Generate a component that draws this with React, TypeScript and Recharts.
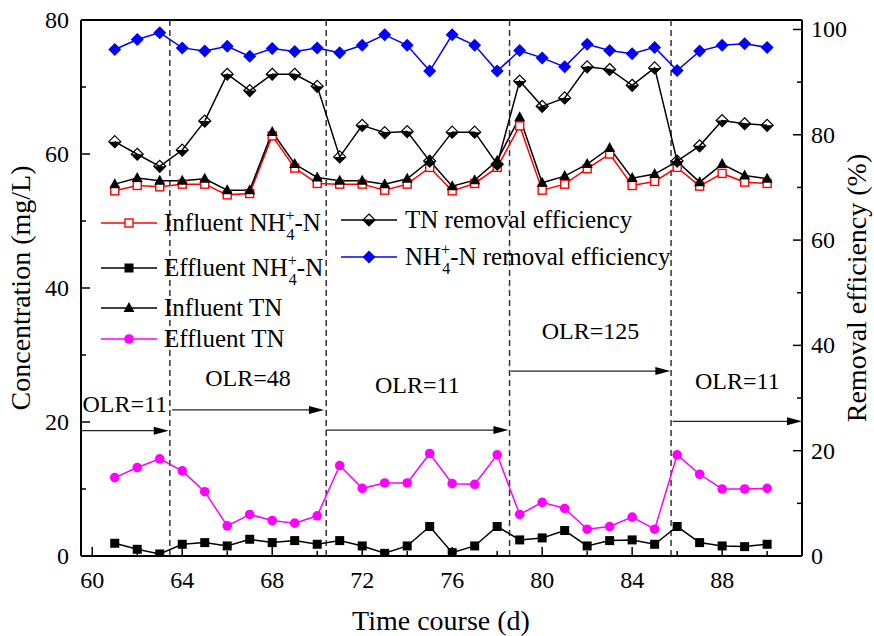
import React from 'react';
import { LineChart, Line, XAxis, YAxis, ReferenceLine, ReferenceDot } from 'recharts';

// days of operation
const days = [61, 62, 63, 64, 65, 66, 67, 68, 69, 70, 71, 72, 73, 74, 75, 76, 77, 78, 79, 80, 81, 82, 83, 84, 85, 86, 87, 88, 89, 90];

// concentrations (mg/L), left axis
const influentNH4 = [54.5, 55.3, 55.1, 55.5, 55.5, 53.9, 54.1, 62.7, 57.9, 55.6, 55.5, 55.5, 54.6, 55.5, 58.0, 54.5, 55.6, 58.0, 64.2, 54.6, 55.5, 57.8, 60.0, 55.3, 55.9, 58.0, 55.2, 57.1, 55.8, 55.6];
const effluentNH4 = [1.9, 1.0, 0.3, 1.75, 2.0, 1.5, 2.5, 2.0, 2.3, 1.75, 2.3, 1.5, 0.4, 1.5, 4.4, 0.5, 1.5, 4.4, 2.4, 2.7, 3.8, 1.5, 2.3, 2.4, 1.75, 4.4, 2.0, 1.5, 1.4, 1.75];
const influentTN = [55.5, 56.4, 56.0, 56.0, 56.3, 54.6, 54.6, 63.3, 58.5, 56.5, 56.0, 56.0, 55.5, 56.3, 59.0, 55.2, 56.1, 59.0, 65.5, 55.7, 56.7, 58.5, 60.9, 56.4, 57.0, 58.9, 55.8, 58.5, 56.8, 56.3];
const effluentTN = [11.7, 13.2, 14.5, 12.7, 9.6, 4.5, 6.2, 5.3, 4.9, 6.0, 13.5, 10.1, 10.9, 10.9, 15.3, 10.8, 10.7, 15.1, 6.2, 8.0, 7.1, 4.0, 4.4, 5.8, 4.0, 15.1, 12.2, 10.0, 10.0, 10.1];

// removal efficiencies (%), right axis
const tnRemoval = [78.7, 76.3, 74.0, 77.1, 82.6, 91.5, 88.4, 91.5, 91.5, 89.2, 75.8, 81.8, 80.4, 80.6, 75.0, 80.5, 80.5, 74.4, 90.2, 85.4, 87.0, 92.9, 92.4, 89.4, 92.7, 75.0, 77.9, 82.7, 82.1, 81.8];
const nh4Removal = [96.2, 98.1, 99.4, 96.5, 95.9, 96.8, 94.9, 96.4, 95.8, 96.5, 95.6, 97.0, 99.0, 97.0, 92.1, 99.0, 97.0, 92.1, 96.0, 94.6, 92.9, 97.2, 96.0, 95.4, 96.6, 92.2, 95.9, 97.0, 97.3, 96.6];

// phase boundaries and OLR annotations
const phaseBounds = [63.45, 70.4, 78.55, 85.73];
const olrText = ['OLR=11', 'OLR=48', 'OLR=11', 'OLR=125', 'OLR=11'];
const olrFrom = [59.5, 63.55, 70.4, 78.6, 85.8];
const olrTo = [63.4, 70.3, 78.5, 85.7, 91.55];
const olrArrowLevel = [18.7, 21.8, 18.8, 27.6, 20.1];
const olrTextLevel = [22.7, 26.6, 25.5, 33.6, 26.1];

const xTicks = [60, 62, 64, 66, 68, 70, 72, 74, 76, 78, 80, 82, 84, 86, 88, 90];
const leftTicks = [0, 10, 20, 30, 40, 50, 60, 70, 80];
const rightTicks = [0, 10, 20, 30, 40, 50, 60, 70, 80, 90, 100];

const W = 874;
const H = 636;
const PLOT_L = 81;
const PLOT_R = 802;
const PLOT_B = 556;
const FONT = "'Times New Roman', 'Liberation Serif', 'DejaVu Serif', serif";
const txt = { fontFamily: FONT };
const LEG = 25;

const data = days.map((d, i) => ({
  day: d,
  inNH4: influentNH4[i],
  effNH4: effluentNH4[i],
  inTN: influentTN[i],
  effTN: effluentTN[i],
  tnEff: tnRemoval[i],
  nh4Eff: nh4Removal[i],
}));

// markers
const OpenSquare = ({ cx, cy }: any) => (
  <rect x={cx - 4} y={cy - 4} width={8} height={8} fill="#fff" stroke="#ff0000" strokeWidth={1.4} />
);
const FilledSquare = ({ cx, cy }: any) => (
  <rect x={cx - 4.5} y={cy - 4.5} width={9} height={9} fill="#000" />
);
const Triangle = ({ cx, cy }: any) => (
  <polygon points={`${cx},${cy - 6} ${cx + 5.5},${cy + 4} ${cx - 5.5},${cy + 4}`} fill="#000" />
);
const Circle = ({ cx, cy }: any) => <circle cx={cx} cy={cy} r={4.8} fill="#ff00ff" />;
const HalfDiamond = ({ cx, cy }: any) => (
  <g>
    <polygon points={`${cx - 6},${cy} ${cx + 6},${cy} ${cx},${cy + 6}`} fill="#000" />
    <polygon points={`${cx},${cy - 6} ${cx + 6},${cy} ${cx},${cy + 6} ${cx - 6},${cy}`} fill="none" stroke="#000" strokeWidth={1.2} />
  </g>
);
const BlueDiamond = ({ cx, cy }: any) => (
  <polygon points={`${cx},${cy - 6.5} ${cx + 6.5},${cy} ${cx},${cy + 6.5} ${cx - 6.5},${cy}`} fill="#0000ff" />
);

const dotOf = (Shape: any, name: string) => (p: any) =>
  p.cx == null ? <g key={`${name}-${p.index}`} /> : <Shape key={`${name}-${p.index}`} cx={p.cx} cy={p.cy} />;

// inward ticks
const XTick = (p: any) => {
  const v = p.payload.value;
  const major = v % 4 === 0;
  return (
    <g>
      <line x1={p.x} x2={p.x} y1={PLOT_B} y2={PLOT_B - (major ? 9 : 5)} stroke="#000" strokeWidth={1.5} />
      {major && (
        <text x={p.x} y={PLOT_B + 32} textAnchor="middle" fontSize={24} style={txt} fill="#000">{v}</text>
      )}
    </g>
  );
};
const LeftTick = (p: any) => {
  const v = p.payload.value;
  const major = v % 20 === 0;
  return (
    <g>
      <line x1={PLOT_L} x2={PLOT_L + (major ? 9 : 5)} y1={p.y} y2={p.y} stroke="#000" strokeWidth={1.5} />
      {major && (
        <text x={PLOT_L - 12} y={p.y + 8} textAnchor="end" fontSize={24} style={txt} fill="#000">{v}</text>
      )}
    </g>
  );
};
const RightTick = (p: any) => {
  const v = p.payload.value;
  const major = v % 20 === 0;
  return (
    <g>
      <line x1={PLOT_R} x2={PLOT_R - (major ? 9 : 5)} y1={p.y} y2={p.y} stroke="#000" strokeWidth={1.5} />
      {major && (
        <text x={PLOT_R + 9} y={p.y + 8} textAnchor="start" fontSize={24} style={txt} fill="#000">{v}</text>
      )}
    </g>
  );
};

const ArrowShape = (p: any) => (
  <g>
    <line x1={p.x1} y1={p.y1} x2={p.x2 - 10} y2={p.y2} stroke="#222" strokeWidth={1.3} />
    <polygon points={`${p.x2},${p.y2} ${p.x2 - 15},${p.y2 - 4} ${p.x2 - 15},${p.y2 + 4}`} fill="#000" />
  </g>
);

const NH4 = ({ x, y, before, after }: any) => (
  <text x={x} y={y} fontSize={LEG} style={txt} fill="#000">
    {before}NH
    <tspan fontSize={16} dy={-10}>+</tspan>
    <tspan fontSize={16} dx={-8} dy={19}>4</tspan>
    <tspan dy={-9}>{after}</tspan>
  </text>
);

const legendLeft = [
  { y: 223, Shape: OpenSquare, color: '#ff0000' },
  { y: 268, Shape: FilledSquare, color: '#000' },
  { y: 308, Shape: Triangle, color: '#000' },
  { y: 339, Shape: Circle, color: '#ff00ff' },
];
const legendRight = [
  { y: 220, Shape: HalfDiamond, color: '#000' },
  { y: 257, Shape: BlueDiamond, color: '#0000ff' },
];

const Overlay = () => (
  <svg width={W} height={H} style={{ position: 'absolute', left: 0, top: 0, pointerEvents: 'none' }}>
    {legendLeft.map((l, i) => (
      <g key={`ll${i}`}>
        <line x1={101} x2={157} y1={l.y} y2={l.y} stroke={l.color} strokeWidth={1.5} />
        <l.Shape cx={129} cy={l.y} />
      </g>
    ))}
    <NH4 x={164} y={231} before="Influent " after="-N" />
    <NH4 x={164} y={276} before="Effluent " after="-N" />
    <text x={164} y={316} fontSize={LEG} style={txt}>Influent TN</text>
    <text x={164} y={347} fontSize={LEG} style={txt}>Effluent TN</text>
    {legendRight.map((l, i) => (
      <g key={`lr${i}`}>
        <line x1={341} x2={397} y1={l.y} y2={l.y} stroke={l.color} strokeWidth={1.5} />
        <l.Shape cx={369} cy={l.y} />
      </g>
    ))}
    <text x={405} y={228} fontSize={LEG} style={txt}>TN removal efficiency</text>
    <NH4 x={405} y={265} before="" after="-N removal efficiency" />
    <text transform="translate(30,288) rotate(-90)" textAnchor="middle" fontSize={28} style={txt}>Concentration (mg/L)</text>
    <text transform="translate(866,288) rotate(-90)" textAnchor="middle" fontSize={28} style={txt}>Removal efficiency (%)</text>
    <text x={441} y={630} textAnchor="middle" fontSize={28} style={txt}>Time course (d)</text>
  </svg>
);

export default function App() {
  return (
    <div style={{ position: 'absolute', left: 0, top: 0, width: W, height: H, background: '#fff', fontFamily: FONT }}>
      <LineChart width={W} height={H} data={data} margin={{ top: 20, right: 0, bottom: 0, left: 0 }}>
        <XAxis
          type="number"
          dataKey="day"
          domain={[59.5, 91.55]}
          ticks={xTicks}
          interval={0}
          allowDataOverflow
          height={80}
          axisLine={{ stroke: '#000', strokeWidth: 2 }}
          tickLine={false}
          tick={XTick}
        />
        <YAxis
          yAxisId="left"
          width={81}
          domain={[0, 80]}
          ticks={leftTicks}
          interval={0}
          allowDataOverflow
          axisLine={{ stroke: '#000', strokeWidth: 2 }}
          tickLine={false}
          tick={LeftTick}
        />
        <YAxis
          yAxisId="right"
          orientation="right"
          width={72}
          domain={[0, 101.8]}
          ticks={rightTicks}
          interval={0}
          allowDataOverflow
          axisLine={{ stroke: '#000', strokeWidth: 2 }}
          tickLine={false}
          tick={RightTick}
        />
        <ReferenceLine yAxisId="left" y={80} stroke="#000" strokeWidth={2} />
        {phaseBounds.map((b, i) => (
          <ReferenceLine key={`pb${i}`} yAxisId="left" x={b} stroke="#333" strokeWidth={1.5} strokeDasharray="6 4" />
        ))}
        {olrText.map((t, i) => (
          <ReferenceLine
            key={`ar${i}`}
            yAxisId="left"
            segment={[{ x: olrFrom[i], y: olrArrowLevel[i] }, { x: olrTo[i], y: olrArrowLevel[i] }]}
            shape={ArrowShape}
          />
        ))}
        {olrText.map((t, i) => (
          <ReferenceDot
            key={`at${i}`}
            yAxisId="left"
            x={(olrFrom[i] + olrTo[i]) / 2}
            y={olrTextLevel[i]}
            r={0}
            shape={(p: any) => (
              <text x={p.cx} y={p.cy + 8} textAnchor="middle" fontSize={24} style={txt} fill="#000">{t}</text>
            )}
          />
        ))}
        <Line yAxisId="left" dataKey="effTN" stroke="#ff00ff" strokeWidth={1.5} dot={dotOf(Circle, 'c')} activeDot={false} isAnimationActive={false} />
        <Line yAxisId="left" dataKey="effNH4" stroke="#000" strokeWidth={1.5} dot={dotOf(FilledSquare, 's')} activeDot={false} isAnimationActive={false} />
        <Line yAxisId="left" dataKey="inNH4" stroke="#ff0000" strokeWidth={1.5} dot={dotOf(OpenSquare, 'o')} activeDot={false} isAnimationActive={false} />
        <Line yAxisId="left" dataKey="inTN" stroke="#000" strokeWidth={1.5} dot={dotOf(Triangle, 't')} activeDot={false} isAnimationActive={false} />
        <Line yAxisId="right" dataKey="tnEff" stroke="#000" strokeWidth={1.5} dot={dotOf(HalfDiamond, 'h')} activeDot={false} isAnimationActive={false} />
        <Line yAxisId="right" dataKey="nh4Eff" stroke="#0000ff" strokeWidth={1.5} dot={dotOf(BlueDiamond, 'b')} activeDot={false} isAnimationActive={false} />
      </LineChart>
      <Overlay />
    </div>
  );
}
